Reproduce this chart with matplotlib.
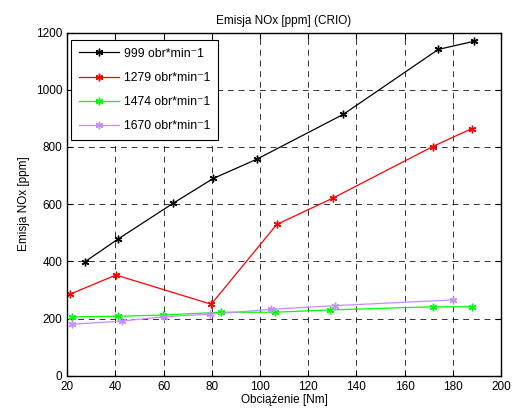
import matplotlib
matplotlib.use("Agg")
import matplotlib.pyplot as plt

x_999 = [27.5, 41, 64, 80.7, 98.7, 134.6, 174, 188.6]
y_999 = [399, 477, 603, 690, 757, 914, 1141, 1169]
x_1279 = [21.2, 40.3, 79.8, 107, 130.5, 171.6, 187.9]
y_1279 = [285, 352, 250, 529, 622, 801, 864]
x_1474 = [21.9, 41.3, 59.7, 83.9, 106.3, 129.1, 171.7, 187.9]
y_1474 = [206, 208, 212, 222, 222, 230, 241, 241]
x_1670 = [22, 42.7, 60, 79.3, 104.5, 131.2, 179.9]
y_1670 = [180, 191, 206, 215, 232, 245, 265]
labels = ["999 obr*min\u207b1", "1279 obr*min\u207b1", "1474 obr*min\u207b1", "1670 obr*min\u207b1"]
colors = ["black", "red", "#00ff00", "#c78cff"]
xticks = [20, 40, 60, 80, 100, 120, 140, 160, 180, 200]
yticks = [0, 200, 400, 600, 800, 1000, 1200]

plt.rcParams['font.family'] = ['Liberation Sans', 'DejaVu Sans']
plt.rcParams['font.size'] = 8.5

fig = plt.figure(figsize=(5.16, 4.09), dpi=100)
ax = fig.add_axes([0.130, 0.0814, 0.841, 0.8391])

series = [(x_999, y_999), (x_1279, y_1279), (x_1474, y_1474), (x_1670, y_1670)]
for (xs, ys), lab, c in zip(series, labels, colors):
    ax.plot(xs, ys, color=c, lw=0.9, marker=(6, 2, 0), ms=5.5, mew=1.0, label=lab)

ax.set_xlim(20, 200)
ax.set_ylim(0, 1200)
ax.set_xticks(xticks)
ax.set_yticks(yticks)
ax.grid(True, color='black', linestyle=(0, (6, 5)), lw=0.7, alpha=0.8)
ax.tick_params(direction='in', top=True, right=True, length=4, width=0.8, labelsize=8.5)
for s in ax.spines.values():
    s.set_linewidth(1.0)
ax.set_title("Emisja NOx [ppm] (CRIO)", fontsize=8.5, pad=6)
ax.set_xlabel("Obciążenie [Nm]", fontsize=8.5, labelpad=1)
ax.set_ylabel("Emisja NOx [ppm]", fontsize=8.5)
leg = ax.legend(loc='upper left', fontsize=8.8, fancybox=False, framealpha=1,
                edgecolor='black', handlelength=3.3, handletextpad=0.4,
                borderpad=0.6, labelspacing=1.0, borderaxespad=0.35,
                bbox_to_anchor=(0.0, 0.99))
leg.get_frame().set_linewidth(0.8)

fig.savefig("out.png", dpi=100)
